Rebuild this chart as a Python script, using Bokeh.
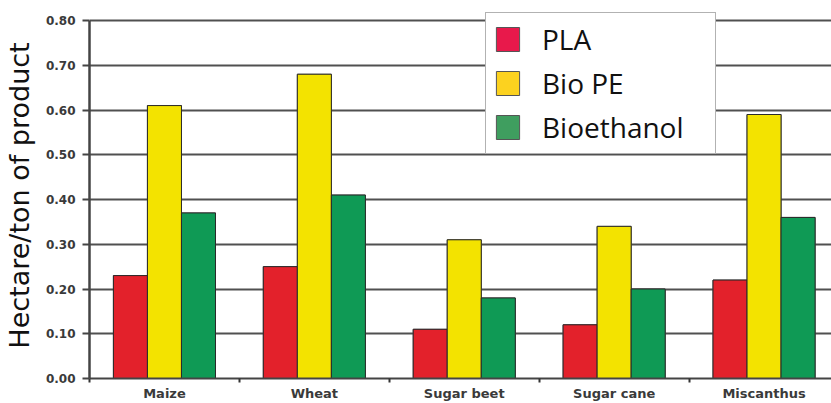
from bokeh.plotting import figure
from bokeh.models import (Range1d, FixedTicker, PrintfTickFormatter, Legend, LegendItem,
                          ColumnDataSource)
from bokeh.embed import file_html
from bokeh.resources import INLINE

categories = ["Maize", "Wheat", "Sugar beet", "Sugar cane", "Miscanthus"]
series_names = ["PLA", "Bio PE", "Bioethanol"]
pla = [0.23, 0.25, 0.11, 0.12, 0.22]
bio_pe = [0.61, 0.68, 0.31, 0.34, 0.59]
bioethanol = [0.37, 0.41, 0.18, 0.20, 0.36]
y_ticks = [0.0, 0.1, 0.2, 0.3, 0.4, 0.5, 0.6, 0.7, 0.8]

bar_colors = ["#E3212B", "#F3E300", "#0F9A55"]
legend_colors = ["#E8194B", "#FCD21F", "#3F9E5F"]

p = figure(width=831, height=403, output_backend="svg", toolbar_location=None,
           x_range=Range1d(0, 4.95), y_range=Range1d(0, 0.818),
           min_border_left=88, min_border_right=0, min_border_top=12, min_border_bottom=23)
p.outline_line_color = None

centers = [i + 0.5 for i in range(len(categories))]
bw = 0.227
offsets = [-bw, 0.0, bw]
sources = [ColumnDataSource(dict(x=[c + off for c in centers], top=vals))
           for vals, off in zip([pla, bio_pe, bioethanol], offsets)]

# legend renderers (drawn first, fully covered by the real bars)
legend_rs = []
for src, col in zip(sources, legend_colors):
    r = p.vbar(x="x", top="top", width=bw, bottom=0, source=src,
               fill_color=col, line_color="#555555", line_width=1)
    legend_rs.append(r)

for src, col in zip(sources, bar_colors):
    p.vbar(x="x", top="top", width=bw, bottom=0, source=src, fill_color=col,
           line_color="#2a2a2a", line_width=1)

# axes
p.xaxis.ticker = FixedTicker(ticks=centers, minor_ticks=list(range(len(categories) + 1)))
p.xaxis.major_label_overrides = {c: n for c, n in zip(centers, categories)}
p.xaxis.major_tick_line_color = None
p.xaxis.minor_tick_in = 0
p.xaxis.minor_tick_out = 4
p.xaxis.minor_tick_line_color = "#333333"
p.xaxis.minor_tick_line_width = 2
p.xaxis.axis_line_color = "#444444"
p.xaxis.axis_line_width = 2
p.xaxis.major_label_text_font = "DejaVu Sans"
p.xaxis.major_label_text_font_style = "bold"
p.xaxis.major_label_text_font_size = "13px"
p.xaxis.major_label_text_color = "#3a3a3a"
p.xaxis.major_label_standoff = 1

p.yaxis.ticker = FixedTicker(ticks=y_ticks, minor_ticks=[])
p.yaxis.bounds = (0, 0.8)
p.yaxis.formatter = PrintfTickFormatter(format="%.2f")
p.yaxis.major_tick_in = 0
p.yaxis.major_tick_out = 7
p.yaxis.major_tick_line_color = "#444444"
p.yaxis.major_tick_line_width = 2
p.yaxis.axis_line_color = "#444444"
p.yaxis.axis_line_width = 2.5
p.yaxis.major_label_text_font = "DejaVu Sans"
p.yaxis.major_label_text_font_style = "bold"
p.yaxis.major_label_text_font_size = "12px"
p.yaxis.major_label_text_color = "#3a3a3a"
p.yaxis.major_label_standoff = 7
p.yaxis.axis_label = "Hectare/ton of product"
p.yaxis.axis_label_text_font = "DejaVu Sans"
p.yaxis.axis_label_text_font_style = "normal"
p.yaxis.axis_label_text_font_size = "27px"
p.yaxis.axis_label_text_color = "#111111"
p.yaxis.axis_label_standoff = 8

p.xgrid.grid_line_color = None
p.ygrid.ticker = FixedTicker(ticks=y_ticks)
p.ygrid.grid_line_color = "#505050"
p.ygrid.grid_line_width = 2

legend = Legend(items=[LegendItem(label=n, renderers=[r]) for n, r in zip(series_names, legend_rs)],
                location=(396, 224), glyph_width=29, glyph_height=30, label_standoff=20,
                label_text_font="Open Sans", label_text_font_size="28px",
                label_text_color="#111111", spacing=6, padding=7, label_width=166,
                border_line_color="#666666", border_line_width=1.5, margin=0,
                background_fill_color="white", background_fill_alpha=1)
p.add_layout(legend, "center")

open("out.html", "w").write(file_html(p, INLINE))
